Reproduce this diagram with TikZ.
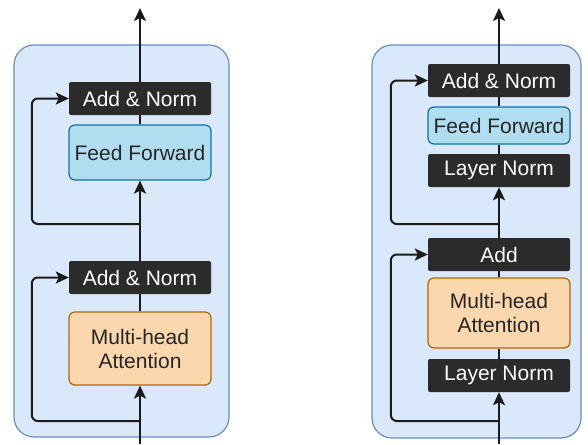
\documentclass[tikz,border=0pt]{standalone}
\usepackage{fontspec}
\setmainfont{Liberation Sans}
\definecolor{panelfill}{HTML}{DAE8FC}
\definecolor{paneldraw}{HTML}{6C8EBF}
\definecolor{darkfill}{HTML}{2B2B2B}
\definecolor{fffill}{HTML}{B1DDF0}
\definecolor{ffdraw}{HTML}{10739E}
\definecolor{attfill}{HTML}{FAD7AC}
\definecolor{attdraw}{HTML}{B46504}
\definecolor{linecol}{HTML}{1A1A1A}
\usetikzlibrary{arrows.meta,positioning}

\tikzset{
  panel/.style={draw=paneldraw, fill=panelfill, line width=1.2pt, rounded corners=20pt},
  darkbox/.style={fill=darkfill, text=white, rounded corners=2pt,
    minimum width=142pt, minimum height=33pt, inner sep=0pt,
    font=\fontsize{21}{24}\selectfont},
  ffbox/.style={draw=ffdraw, fill=fffill, line width=1.2pt, rounded corners=6pt,
    minimum width=142pt, inner sep=0pt, text=black!85,
    font=\fontsize{21}{24}\selectfont},
  attbox/.style={draw=attdraw, fill=attfill, line width=1.2pt, rounded corners=6pt,
    minimum width=142pt, inner sep=0pt, align=center, text=black!85,
    font=\fontsize{21}{24}\selectfont},
  conn/.style={draw=linecol, line width=2pt},
  arr/.style={conn, -{Stealth[length=13pt,width=12pt,inset=3pt]}},
  skip/.style={arr, rounded corners=6pt}
}

\begin{document}
\begin{tikzpicture}[x=1pt, y=-1pt]
\useasboundingbox (0,0) rectangle (588,444);

% --- Left: post-norm block ---
\draw[panel] (14,45) rectangle (229,437);

\node[darkbox] (anA) at (140,98.5) {Add \& Norm};
\node[ffbox, minimum height=55pt] (ffA) at (140,152.5) {Feed Forward};
\node[darkbox] (anB) at (140,277.5) {Add \& Norm};
\node[attbox, minimum height=73pt] (attA) at (140,348.5) {Multi-head\\Attention};

\coordinate (inA) at (140,444);
\coordinate (outA) at (140,8);
\coordinate (brA1) at (140,421);
\coordinate (brA2) at (140,224);

\draw[arr] (inA) -- (attA.south);
\draw[conn] (attA.north) -- (anB.south);
\draw[arr] (anB.north) -- (ffA.south);
\draw[conn] (ffA.north) -- (anA.south);
\draw[arr] (anA.north) -- (outA);

% residual paths
\draw[skip] (brA1) -| ([xshift=-37pt]anB.west) -- (anB.west);
\draw[skip] (brA2) -| ([xshift=-37pt]anA.west) -- (anA.west);

% --- Right: pre-norm block ---
\draw[panel] (372,45) rectangle (581,438);

\node[darkbox] (anC) at (499,80.5) {Add \& Norm};
\node[ffbox, minimum height=37pt] (ffC) at (499,125.5) {Feed Forward};
\node[darkbox] (lnC) at (499,170.5) {Layer Norm};
\node[darkbox] (addC) at (499,254.5) {Add};
\node[attbox, minimum height=70pt] (attC) at (499,313) {Multi-head\\Attention};
\node[darkbox] (lnD) at (499,375.5) {Layer Norm};

\coordinate (inC) at (499,444);
\coordinate (outC) at (499,8);
\coordinate (brC1) at (499,421);
\coordinate (brC2) at (499,224);

\draw[arr] (inC) -- (lnD.south);
\draw[conn] (lnD.north) -- (attC.south);
\draw[conn] (attC.north) -- (addC.south);
\draw[arr] (addC.north) -- (lnC.south);
\draw[conn] (lnC.north) -- (ffC.south);
\draw[conn] (ffC.north) -- (anC.south);
\draw[arr] (anC.north) -- (outC);

% residual paths
\draw[skip] (brC1) -| ([xshift=-37pt]addC.west) -- (addC.west);
\draw[skip] (brC2) -| ([xshift=-37pt]anC.west) -- (anC.west);

\end{tikzpicture}
\end{document}
